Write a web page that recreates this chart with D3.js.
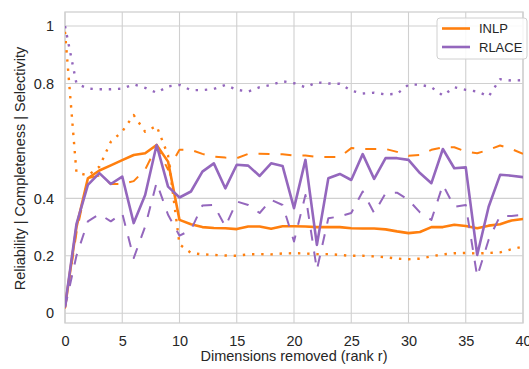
<!DOCTYPE html>
<html>
<head>
<meta charset="utf-8">
<script src="https://cdn.jsdelivr.net/npm/d3@7"></script>
<style>
  html, body { margin: 0; padding: 0; background: #fff; }
  svg { display: block; font-family: "Liberation Sans", Arial, sans-serif; }
</style>
</head>
<body>
<div id="chart"></div>
<script>
// ── Data ──
const ranks = d3.range(0, 41);
const yTicks = [0, 0.2, 0.4, 0.8, 1];
const xTicks = [0, 5, 10, 15, 20, 25, 30, 35, 40];

const inlpSolid = [0.02, 0.30, 0.47, 0.497, 0.515, 0.533, 0.551, 0.557, 0.586, 0.528,
  0.325, 0.31, 0.30, 0.297, 0.296, 0.293, 0.302, 0.302, 0.294, 0.303,
  0.303, 0.302, 0.30, 0.30, 0.30, 0.296, 0.295, 0.295, 0.292, 0.285,
  0.279, 0.283, 0.30, 0.30, 0.308, 0.304, 0.296, 0.305, 0.31, 0.323, 0.328];
const inlpDashed = [0.02, 0.28, 0.47, 0.48, 0.45, 0.45, 0.46, 0.50, 0.58, 0.50,
  0.569, 0.569, 0.555, 0.545, 0.542, 0.54, 0.555, 0.555, 0.554, 0.554,
  0.549, 0.549, 0.544, 0.544, 0.544, 0.575, 0.572, 0.572, 0.572, 0.562,
  0.548, 0.551, 0.569, 0.578, 0.578, 0.563, 0.557, 0.569, 0.584, 0.572, 0.555];
const inlpDotted = [0.98, 0.49, 0.48, 0.51, 0.597, 0.633, 0.69, 0.632, 0.652, 0.55,
  0.24, 0.21, 0.205, 0.203, 0.201, 0.20, 0.205, 0.206, 0.205, 0.208,
  0.209, 0.208, 0.206, 0.206, 0.203, 0.20, 0.20, 0.198, 0.195, 0.19,
  0.188, 0.19, 0.198, 0.205, 0.209, 0.21, 0.208, 0.21, 0.212, 0.223, 0.232];

const rlaceSolid = [0.024, 0.31, 0.447, 0.488, 0.45, 0.476, 0.314, 0.412, 0.586, 0.441,
  0.403, 0.424, 0.493, 0.522, 0.435, 0.517, 0.514, 0.478, 0.522, 0.513,
  0.366, 0.534, 0.238, 0.47, 0.485, 0.464, 0.554, 0.468, 0.54, 0.54,
  0.534, 0.488, 0.453, 0.572, 0.505, 0.508, 0.203, 0.371, 0.482, 0.479, 0.474];
const rlaceDashed = [0.02, 0.20, 0.32, 0.345, 0.32, 0.348, 0.192, 0.302, 0.455, 0.343,
  0.27, 0.29, 0.375, 0.377, 0.302, 0.389, 0.377, 0.349, 0.395, 0.377,
  0.25, 0.412, 0.151, 0.331, 0.337, 0.349, 0.424, 0.349, 0.418, 0.42,
  0.395, 0.351, 0.325, 0.447, 0.371, 0.377, 0.128, 0.256, 0.339, 0.339, 0.343];
const rlaceDotted = [1.0, 0.80, 0.782, 0.78, 0.78, 0.782, 0.797, 0.785, 0.768, 0.79,
  0.795, 0.777, 0.777, 0.781, 0.795, 0.778, 0.772, 0.787, 0.795, 0.808,
  0.801, 0.787, 0.804, 0.80, 0.799, 0.775, 0.765, 0.768, 0.762, 0.764,
  0.796, 0.796, 0.787, 0.758, 0.787, 0.778, 0.772, 0.755, 0.815, 0.81, 0.812];

const ORANGE = '#ff7f0e', PURPLE = '#9467bd';
const series = [
  { values: inlpDashed, color: ORANGE, style: 'dashed' },
  { values: inlpDotted, color: ORANGE, style: 'dotted' },
  { values: inlpSolid, color: ORANGE, style: 'solid' },
  { values: rlaceDashed, color: PURPLE, style: 'dashed' },
  { values: rlaceDotted, color: PURPLE, style: 'dotted' },
  { values: rlaceSolid, color: PURPLE, style: 'solid' },
];
const legendItems = [{ label: 'INLP', color: ORANGE }, { label: 'RLACE', color: PURPLE }];

// ── Layout ──
const W = 529, H = 369;
const plot = { left: 65, right: 523, top: 12, bottom: 323 };
const textColor = '#262626', gridColor = '#d0d0d0';

const svg = d3.select('#chart').append('svg').attr('width', W).attr('height', H);

const x = d3.scaleLinear().domain([0, 40]).range([plot.left, plot.right]);
const y = d3.scaleLinear().domain([-0.034, 1.049]).range([plot.bottom, plot.top]);

// ── Grid ──
const grid = svg.append('g');
grid.selectAll('line.gx').data(xTicks).join('line')
  .attr('x1', d => x(d)).attr('x2', d => x(d))
  .attr('y1', plot.top).attr('y2', plot.bottom)
  .attr('stroke', gridColor).attr('stroke-width', 1.1);
grid.selectAll('line.gy').data(yTicks).join('line')
  .attr('x1', plot.left).attr('x2', plot.right)
  .attr('y1', d => y(d)).attr('y2', d => y(d))
  .attr('stroke', gridColor).attr('stroke-width', 1.1);

// spines
svg.append('rect')
  .attr('x', plot.left).attr('y', plot.top)
  .attr('width', plot.right - plot.left).attr('height', plot.bottom - plot.top)
  .attr('fill', 'none').attr('stroke', gridColor).attr('stroke-width', 1.3);

// ── Axes (tick labels only, seaborn whitegrid) ──
const xAxis = svg.append('g').attr('transform', `translate(0,${plot.bottom})`)
  .call(d3.axisBottom(x).tickValues(xTicks).tickSize(0).tickPadding(13).tickFormat(d3.format('d')));
const yAxis = svg.append('g').attr('transform', `translate(${plot.left},0)`)
  .call(d3.axisLeft(y).tickValues(yTicks).tickSize(0).tickPadding(11).tickFormat(d => d === 0 || d === 1 ? String(d) : d3.format('.1f')(d)));
[xAxis, yAxis].forEach(a => {
  a.select('.domain').remove();
  a.selectAll('text').attr('fill', textColor).style('font-size', '14.5px')
    .style('font-family', '"Liberation Sans", Arial, sans-serif');
});

svg.append('text')
  .attr('x', (plot.left + plot.right) / 2).attr('y', 361)
  .attr('text-anchor', 'middle').attr('fill', textColor).style('font-size', '14.5px')
  .text('Dimensions removed (rank r)');
svg.append('text')
  .attr('transform', `translate(25,${(plot.top + plot.bottom) / 2 + 1}) rotate(-90)`)
  .attr('text-anchor', 'middle').attr('fill', textColor).style('font-size', '14.5px')
  .text('Reliability | Completeness | Selectivity');

// ── Lines ──
svg.append('clipPath').attr('id', 'clip').append('rect')
  .attr('x', plot.left).attr('y', plot.top)
  .attr('width', plot.right - plot.left).attr('height', plot.bottom - plot.top);

const line = d3.line().x((d, i) => x(ranks[i])).y(d => y(d));
const styleOf = {
  solid: { width: 2.6, dash: null, cap: 'round' },
  dashed: { width: 2, dash: '11,11', cap: 'butt' },
  dotted: { width: 2.4, dash: '2.4,6.8', cap: 'butt' },
};

svg.append('g').attr('clip-path', 'url(#clip)')
  .selectAll('path').data(series).join('path')
  .attr('d', d => line(d.values))
  .attr('fill', 'none')
  .attr('stroke', d => d.color)
  .attr('stroke-width', d => styleOf[d.style].width)
  .attr('stroke-dasharray', d => styleOf[d.style].dash)
  .attr('stroke-linecap', d => styleOf[d.style].cap)
  .attr('stroke-linejoin', 'round');

// ── Legend ──
const lg = svg.append('g').attr('transform', 'translate(437,18)');
lg.append('rect').attr('width', 90).attr('height', 41).attr('rx', 3)
  .attr('fill', '#fff').attr('fill-opacity', 0.85)
  .attr('stroke', gridColor).attr('stroke-width', 1);
const li = lg.selectAll('g').data(legendItems).join('g')
  .attr('transform', (d, i) => `translate(0,${10.5 + i * 18.5})`);
li.append('line').attr('x1', 5).attr('x2', 33)
  .attr('stroke', d => d.color).attr('stroke-width', 2.6);
li.append('text').attr('x', 42).attr('y', 4.7)
  .attr('fill', textColor).style('font-size', '13px').text(d => d.label);
</script>
</body>
</html>
